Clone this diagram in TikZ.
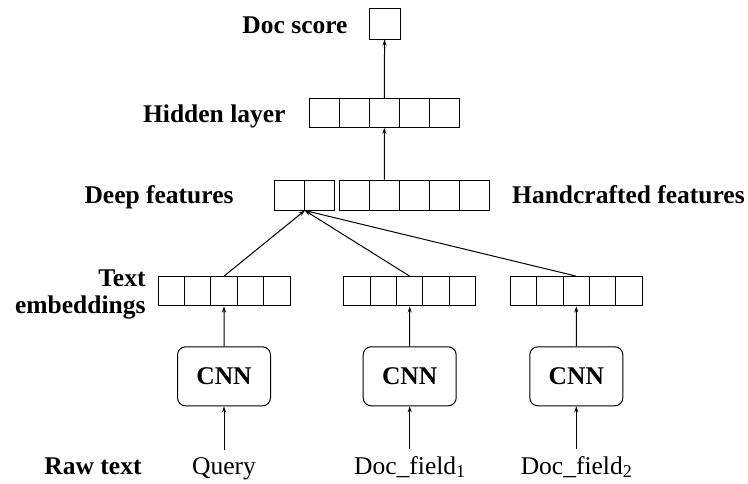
\documentclass[tikz,border=0pt]{standalone}
\usepackage{fontspec}
\setmainfont{Liberation Serif}
\usetikzlibrary{arrows.meta}
\newcommand\fieldsub[1]{\raisebox{-3.5pt}{\fontsize{18}{18}\selectfont #1}}
\begin{document}
\begin{tikzpicture}[x=1pt, y=-1pt, line width=1pt, >={Stealth[length=6pt,width=4pt]},
  cell/.style={draw, minimum width=30pt, minimum height=30pt, inner sep=0pt},
  emb/.style={draw, minimum width=26.4pt, minimum height=29.3pt, inner sep=0pt},
  cnn/.style={draw, rounded corners=8pt, minimum width=93pt, minimum height=59pt, font=\fontsize{25.5}{27}\selectfont\bfseries},
  lbl/.style={inner sep=0pt, font=\fontsize{25.5}{27}\selectfont\bfseries},
  raw/.style={inner sep=0pt, outer ysep=7pt, anchor=base, font=\fontsize{25.5}{27}\selectfont}]
\useasboundingbox (0,0) rectangle (748,483);
% score and hidden layer
\node[cell, minimum width=31pt, minimum height=31pt] (score) at (384.6,23.5) {};
\foreach \i in {1,...,5}
  \node[cell, minimum height=29pt] (h\i) at (294.3+30*\i,112.8) {};
% deep + handcrafted features
\foreach \i in {1,2}
  \node[cell] (d\i) at (259.3+30*\i,195) {};
\foreach \i in {1,...,5}
  \node[cell] (c\i) at (324.4+30*\i,195) {};
% text embeddings, CNNs, raw text
\foreach \r/\x/\t in {q/224/Query, f/409.7/Doc\_field\fieldsub{1}, g/576.3/Doc\_field\fieldsub{2}}{
  \foreach \i in {1,...,5}
    \node[emb] (\r\i) at (\x+26.4*\i-79.2,291.3) {};
  \node[cnn] (n\r) at (\x,376.3) {CNN};
  \node[raw] (t\r) at (\x,474) {\t};
  \draw[->] (t\r.north) -- (n\r);
  \draw[->] (n\r) -- (\r3);
  \draw[->] (\r3.north) -- (d1.south east);
}
\draw[->] (c2) -- (h3);
\draw[->] (h3) -- (score);
% labels
\node[lbl, anchor=base east] (lscore) at (348,33) {Doc score};
\node[lbl, anchor=base east] (lhidden) at (286,122) {Hidden layer};
\node[lbl, anchor=base east] (ldeep) at (234,203) {Deep features};
\node[lbl, anchor=base west] (lhand) at (511.7,203) {Handcrafted features};
\node[lbl, anchor=east, align=right] (lemb) at (146,294) {Text\\embeddings};
\node[lbl, anchor=base west] (lraw) at (44,474) {Raw text};
\end{tikzpicture}
\end{document}
